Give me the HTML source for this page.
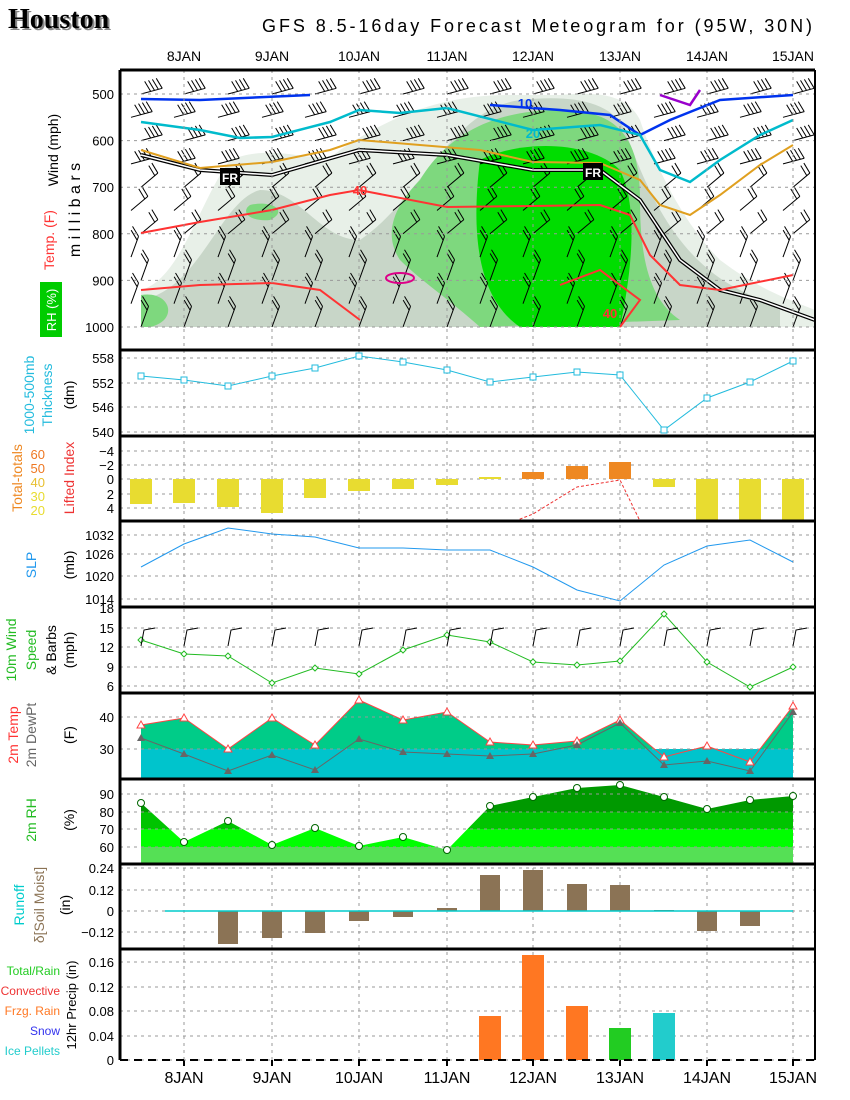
<!DOCTYPE html>
<html><head><meta charset="utf-8"><style>
body{margin:0;background:#fff}
svg{display:block}
text{font-family:"Liberation Sans",sans-serif}
</style></head><body>
<svg id="s" width="850" height="1100" xmlns="http://www.w3.org/2000/svg">
<rect width="850" height="1100" fill="#fff"/>
<text x="10" y="30" font-weight="bold" font-size="28" fill="#888" style="font-family:'Liberation Serif',serif">Houston</text>
<text x="8" y="28" font-weight="bold" font-size="28" fill="#000" style="font-family:'Liberation Serif',serif">Houston</text>
<text x="262" y="32" font-size="18" fill="#000" textLength="550">GFS 8.5-16day Forecast Meteogram for (95W, 30N)</text>
<g id="top"></g>
<g id="g"></g>
</svg>
<script>
const NS="http://www.w3.org/2000/svg";const g=document.getElementById('g');const top_=document.getElementById('top');
function el(t,a,p){const e=document.createElementNS(NS,t);for(const k in a)e.setAttribute(k,a[k]);(p||g).appendChild(e);return e}
function tx(x,y,s,a,p){const e=el('text',Object.assign({x:x,y:y},a),p);e.textContent=s;return e}
const L=120,R=815;
const X=[141,184,228,272,315,359,403,447,490,533,577,620,664,707,750,793];
const dates=[[184,'8JAN'],[272,'9JAN'],[359,'10JAN'],[447,'11JAN'],[533,'12JAN'],[620,'13JAN'],[707,'14JAN'],[793,'15JAN']];
const panels=[70,350,436,521,607,693,779,864,949,1060];
const T=top_;
function P(d,f,o){el('path',{d:d,fill:f,stroke:o||'none'},T)}
P('M141,290 C180,280 200,200 230,160 C280,140 320,170 340,150 C400,110 450,95 510,95 L560,95 C610,90 630,100 640,120 C660,180 690,230 720,260 C760,290 790,300 815,310 L815,327 L141,327 Z','#e8f0e8');
P('M141,300 C200,290 220,200 260,190 C300,190 320,240 360,240 C420,200 450,110 520,100 C570,95 610,100 625,130 C650,200 680,260 740,290 L780,310 L780,327 L141,327 Z','#c8d6c8');
P('M420,180 C450,130 500,110 560,110 C620,110 640,140 640,200 C640,260 650,300 680,320 L480,327 C450,300 420,280 400,260 C380,230 400,200 420,180 Z','#7ed87e');
P('M480,160 C520,140 590,140 620,170 C640,210 630,280 620,327 L520,327 C480,300 470,240 480,160 Z','#00dd00');
P('M141,295 C170,290 180,320 150,327 L141,327 Z','#7ed87e');
P('M250,205 C270,200 290,210 270,220 C250,222 240,212 250,205 Z','#7ed87e');
[500,600,700,800,900,1000].forEach(p=>{const y=94+(p-500)*0.466;el('line',{x1:L,x2:R,y1:y,y2:y,stroke:'#999','stroke-dasharray':'3,4'});tx(L-6,y+5,String(p),{'font-size':13,'text-anchor':'end'})});
function pl(pts,c,w,dash){el('polyline',{points:pts,fill:'none',stroke:c,'stroke-width':w||2,'stroke-dasharray':dash||'none'})}
pl('141,155 200,170 272,175 359,150 447,155 533,170 600,170 640,200 680,260 720,290 760,300 815,320','#000',4);pl('141,155 200,170 272,175 359,150 447,155 533,170 600,170 640,200 680,260 720,290 760,300 815,320','#fff',1.5);
pl('141,99 200,100 310,95','#0033ee',2.5);pl('490,105 560,110 610,115 640,135 670,120 720,100 793,95','#0033ee',2.5);
pl('660,95 690,105 700,90','#9900cc',2.5);
pl('141,122 200,130 240,138 272,137 330,122 359,110 400,113 447,108 533,130 600,125 640,135 660,170 690,182 720,160 760,135 793,120','#00bbcc',2.5);
pl('141,150 200,168 272,162 330,150 359,140 420,145 480,150 533,162 600,163 640,180 660,205 690,215 720,195 760,165 793,145','#e0a020',2);
pl('141,233 200,222 272,210 330,195 359,190 447,207 533,206 600,205 630,215 650,255 680,285 720,290 793,275','#ff3333',2);
pl('141,290 200,285 272,283 320,290 360,320','#ff3333',2);pl('560,285 600,270 640,300 620,327','#ff3333',2);
el('ellipse',{cx:400,cy:278,rx:14,ry:5,fill:'none',stroke:'#dd0088','stroke-width':2});
for(let i=0;i<16;i++){for(let p=500;p<=1000;p+=50){const x=X[i]+(p%100?-10:0),y=94+(p-500)*0.466;const len=22;const ang=p<700?-15:(p<850?-40:-70);const a=ang*Math.PI/180;const x2=x+len*Math.cos(a),y2=y+len*Math.sin(a);el('line',{x1:x,y1:y,x2:x2,y2:y2,stroke:'#000','stroke-width':1},T);const n=p<700?4:2;for(let k=0;k<n;k++){const bx=x2-k*4*Math.cos(a),by=y2-k*4*Math.sin(a);el('line',{x1:bx,y1:by,x2:bx-6,y2:by-10,stroke:'#000','stroke-width':1},T)}}}
[[230,177],[593,172]].forEach(([x,y])=>{el('rect',{x:x-10,y:y-9,width:20,height:17,fill:'#000'});tx(x,y+5,'FR',{'font-size':12,fill:'#fff','text-anchor':'middle','font-weight':'bold'})});
tx(525,108,'10',{'font-size':13,fill:'#0033ee','font-weight':'bold','text-anchor':'middle'});
tx(533,138,'20',{'font-size':13,fill:'#00bbcc','font-weight':'bold','text-anchor':'middle'});
tx(360,195,'40',{'font-size':13,fill:'#ff3333','font-weight':'bold','text-anchor':'middle'});
tx(610,318,'40',{'font-size':13,fill:'#ff3333','font-weight':'bold','text-anchor':'middle'});
dates.forEach(([x,s])=>{el('line',{x1:x,x2:x,y1:70,y2:1060,stroke:'#999','stroke-dasharray':'3,4'});tx(x,61,s,{'font-size':14,'text-anchor':'middle'});tx(x,1083,s,{'font-size':16,'text-anchor':'middle'});el('line',{x1:x,x2:x,y1:1060,y2:1066,stroke:'#000','stroke-width':2})});
function yax(vals){vals.forEach(([v,y])=>{el('line',{x1:L,x2:R,y1:y,y2:y,stroke:'#999','stroke-dasharray':'3,4'});tx(L-6,y+5,v,{'font-size':13,'text-anchor':'end'})})}
yax([['558',358],['552',383],['546',407],['540',432]]);
const th=[376,380,386,376,368,356,362,370,382,377,372,375,430,398,382,361];
pl(X.map((x,i)=>x+','+th[i]).join(' '),'#22bbdd',1);
X.forEach((x,i)=>el('rect',{x:x-3,y:th[i]-3,width:6,height:6,fill:'#fff',stroke:'#22bbdd'}));
yax([['−4',451],['−2',465],['0',479],['2',494],['4',508]]);
const li=[[504,'y'],[503,'y'],[507,'y'],[513,'y'],[498,'y'],[491,'y'],[489,'y'],[485,'y'],[477,'y'],[472,'o'],[466,'o'],[462,'o'],[487,'y'],[521,'y'],[521,'y'],[521,'y']];
X.forEach((x,i)=>{const [v,c]=li[i];const y1=Math.min(v,479),h=Math.abs(v-479);el('rect',{x:x-11,y:y1,width:22,height:Math.max(h,1),fill:c=='y'?'#e8dc30':'#ee8822'})});
pl('515,521 533,514 577,487 620,480 640,521','#ee3333',1,'3,2');
yax([['1032',535],['1026',554],['1020',576],['1014',599]]);
const sl=[567,544,528,534,537,548,548,550,550,567,590,601,565,546,540,562];
pl(X.map((x,i)=>x+','+sl[i]).join(' '),'#2299ee',1);
yax([['18',608],['15',628],['12',647],['9',667],['6',686]]);
const ws=[640,654,656,683,668,674,650,635,642,662,665,661,614,662,687,667];
pl(X.map((x,i)=>x+','+ws[i]).join(' '),'#22bb22',1);
X.forEach((x,i)=>{el('path',{d:`M${x},${ws[i]-3}L${x+3},${ws[i]}L${x},${ws[i]+3}L${x-3},${ws[i]}Z`,fill:'#fff',stroke:'#22bb22'});el('polyline',{points:`${x},${646} ${x+3},${630} ${x+14},${628}`,fill:'none',stroke:'#000'})});
const tp=[725,718,749,718,745,700,720,712,742,745,741,720,757,746,762,706];
const dp=[738,754,771,755,770,739,752,754,756,754,745,723,765,761,771,712];
el('polygon',{points:'141,779 '+X.map((x,i)=>x+','+tp[i]).join(' ')+' 793,779',fill:'#00cc88'});
el('rect',{x:141,y:749,width:652,height:30,fill:'#00c4cc'});
yax([['40',717],['30',749]]);
pl(X.map((x,i)=>x+','+tp[i]).join(' '),'#ff4444',1);
pl(X.map((x,i)=>x+','+dp[i]).join(' '),'#666',1);
X.forEach((x,i)=>{el('path',{d:`M${x},${tp[i]-4}L${x+4},${tp[i]+3}L${x-4},${tp[i]+3}Z`,fill:'#fff',stroke:'#ff4444'});el('path',{d:`M${x},${dp[i]-4}L${x+4},${dp[i]+3}L${x-4},${dp[i]+3}Z`,fill:'#666'})});
const rh=[803,842,821,845,828,846,837,850,806,797,788,785,797,809,800,796];
const cp=el('clipPath',{id:'rc'});el('polygon',{points:'141,864 '+X.map((x,i)=>x+','+rh[i]).join(' ')+' 793,864'},cp);
const rg=el('g',{'clip-path':'url(#rc)'});
el('rect',{x:141,y:779,width:652,height:33,fill:'#009900'},rg);el('rect',{x:141,y:812,width:652,height:17,fill:'#00c400'},rg);el('rect',{x:141,y:829,width:652,height:18,fill:'#00ff00'},rg);el('rect',{x:141,y:847,width:652,height:17,fill:'#55e055'},rg);
yax([['90',794],['80',812],['70',829],['60',847]]);
X.forEach((x,i)=>el('circle',{cx:x,cy:rh[i],r:3.5,fill:'#fff',stroke:'#006600'}));
yax([['0.24',868],['0.12',890],['0',911],['−0.12',932]]);
const ro=[null,null,944,938,933,921,917,908,875,870,884,885,910,931,926,null];
X.forEach((x,i)=>{const v=ro[i];if(v==null)return;el('rect',{x:x-10,y:Math.min(v,911),width:20,height:Math.max(Math.abs(v-911),1),fill:'#8b7355'})});
pl('165,911 793,911','#00cccc',1.5);
yax([['0.16',962],['0.12',987],['0.08',1011],['0.04',1036],['0',1060]]);
[[490,1016,'#ff7722'],[533,955,'#ff7722'],[577,1006,'#ff7722'],[620,1028,'#22cc22'],[664,1013,'#22cccc']].forEach(([x,y,c])=>el('rect',{x:x-11,y:y,width:22,height:1060-y,fill:c}));
panels.forEach((y,i)=>{if(i<panels.length-1)el('line',{x1:L,x2:R,y1:y,y2:y,stroke:'#000','stroke-width':3})});
el('line',{x1:L,x2:L,y1:70,y2:1060,stroke:'#000','stroke-width':3});
el('line',{x1:R,x2:R,y1:70,y2:1060,stroke:'#000','stroke-width':2});
el('line',{x1:L,x2:R,y1:1060,y2:1060,stroke:'#000','stroke-width':2,'stroke-dasharray':'8,6'});
function rl(x,y,s,c,fs){tx(0,0,s,{'font-size':fs||14,fill:c,'text-anchor':'middle',transform:`translate(${x},${y}) rotate(-90)`})}
rl(58,150,'Wind (mph)','#000');rl(54,240,'Temp. (F)','#ff3333');rl(80,210,'m i l l i b a r s','#000',16);
el('rect',{x:40,y:282,width:22,height:55,fill:'#00cc00'});rl(56,310,'RH (%)','#fff',13);
rl(34,395,'1000-500mb','#22bbdd');rl(52,395,'Thickness','#22bbdd');rl(74,395,'(dm)','#000');
rl(22,478,'Total-totals','#ee8822');rl(74,478,'Lifted Index','#ee3333');
tx(45,459,'60',{'font-size':13,fill:'#ee7722','text-anchor':'end'});tx(45,473,'50',{'font-size':13,fill:'#ee7722','text-anchor':'end'});tx(45,487,'40',{'font-size':13,fill:'#e8c030','text-anchor':'end'});tx(45,501,'30',{'font-size':13,fill:'#e8dc30','text-anchor':'end'});tx(45,515,'20',{'font-size':13,fill:'#e8dc30','text-anchor':'end'});
rl(36,565,'SLP','#2299ee');rl(74,565,'(mb)','#000');
rl(16,650,'10m Wind','#22bb22');rl(36,650,'Speed','#22bb22');rl(56,650,'& Barbs','#000');rl(74,650,'(mph)','#000');
rl(18,735,'2m Temp','#ff3333');rl(36,735,'2m DewPt','#666');rl(74,735,'(F)','#000');
rl(36,820,'2m RH','#22bb22');rl(74,820,'(%)','#000');
rl(24,905,'Runoff','#00cccc');rl(44,905,'δ[Soil Moist]','#8b7355');rl(70,905,'(in)','#000');
rl(76,1005,'12hr Precip (in)','#000',13);
[['Total/Rain','#22cc22',975],['Convective','#ee3333',995],['Frzg. Rain','#ff7722',1015],['Snow','#3333ee',1035],['Ice Pellets','#22cccc',1055]].forEach(([s,c,y])=>tx(60,y,s,{'font-size':12,fill:c,'text-anchor':'end'}));
</script>
</body></html>
